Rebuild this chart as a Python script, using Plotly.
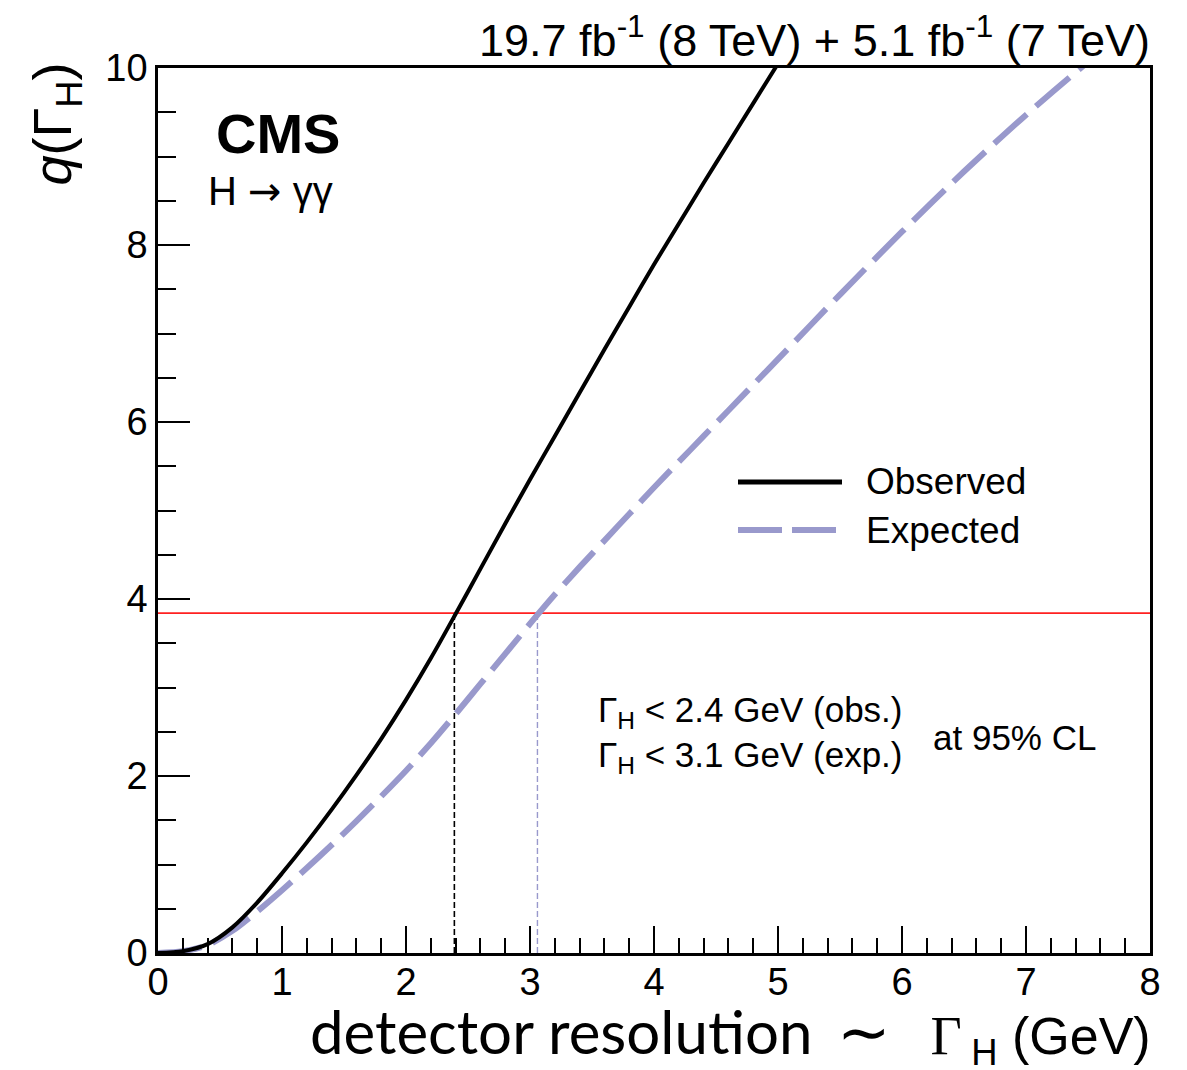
import plotly.graph_objects as go

# Profile-likelihood scan q(Gamma_H), H -> gamma gamma
gamma_obs = [0.0, 0.2, 0.4, 0.6, 0.8, 1.0, 1.2, 1.4, 1.6, 1.8, 2.0, 2.2, 2.4,
             2.6, 2.8, 3.0, 3.2, 3.4, 3.6, 3.8, 4.0, 4.2, 4.4, 4.6, 4.8, 5.0]
q_obs = [0.00, 0.02, 0.10, 0.29, 0.57, 0.90, 1.25, 1.62, 2.01, 2.42, 2.86, 3.33, 3.83,
         4.34, 4.85, 5.35, 5.84, 6.33, 6.82, 7.30, 7.78, 8.24, 8.70, 9.15, 9.60, 10.05]

gamma_exp = [0.0, 0.2, 0.4, 0.6, 0.8, 1.0, 1.2, 1.4, 1.6, 1.8, 2.0, 2.2, 2.4, 2.6,
             2.8, 3.0, 3.2, 3.4, 3.6, 3.8, 4.0, 4.2, 4.4, 4.6, 4.8, 5.0, 5.5, 6.0,
             6.5, 7.0, 7.5, 7.6]
q_exp = [0.00, 0.02, 0.09, 0.25, 0.47, 0.71, 0.96, 1.22, 1.49, 1.77, 2.06, 2.37, 2.70, 3.04,
         3.38, 3.72, 4.05, 4.36, 4.66, 4.96, 5.26, 5.55, 5.84, 6.13, 6.42, 6.71, 7.44, 8.15,
         8.83, 9.47, 10.07, 10.19]

q_threshold = 3.84      # 95% CL for one parameter
limit_obs = 2.39        # GeV
limit_exp = 3.06        # GeV

x_ticks = [0, 1, 2, 3, 4, 5, 6, 7, 8]
y_ticks = [0, 2, 4, 6, 8, 10]

PURPLE = "#9999cc"
FONT = "Liberation Sans, Arial, Helvetica, sans-serif"

W, H = 1187, 1070
L, R, T, B = 158, 1150, 68, 953   # plot frame in pixels


def px(xp, yp):
    """Pixel position -> paper coordinates."""
    return (xp - L) / (R - L), (B - yp) / (B - T)


fig = go.Figure()

fig.add_trace(go.Scatter(
    x=gamma_exp, y=q_exp, mode="lines", name="Expected",
    line=dict(color=PURPLE, width=6, dash="44px,12px", shape="spline", smoothing=0.8),
    showlegend=False, hoverinfo="skip"))
fig.add_trace(go.Scatter(
    x=gamma_obs, y=q_obs, mode="lines", name="Observed",
    line=dict(color="black", width=4, shape="spline", smoothing=0.8),
    showlegend=False, hoverinfo="skip"))

# 95% CL threshold and the resulting limits
fig.add_shape(type="line", xref="x domain", yref="y", x0=0, x1=1,
              y0=q_threshold, y1=q_threshold, layer="below",
              line=dict(color="#ff2020", width=1.6))
fig.add_shape(type="line", xref="x", yref="y", x0=limit_obs, x1=limit_obs,
              y0=0, y1=q_threshold, layer="below",
              line=dict(color="black", width=1.6, dash="6px,3px"))
fig.add_shape(type="line", xref="x", yref="y", x0=limit_exp, x1=limit_exp,
              y0=0, y1=q_threshold, layer="below",
              line=dict(color=PURPLE, width=1.4, dash="6px,3px"))

annotations = []


def text(xp, yp, s, size, anchor="left", yanchor="middle", **kw):
    xx, yy = px(xp, yp)
    annotations.append(dict(
        x=xx, y=yy, xref="paper", yref="paper", text=s, showarrow=False,
        xanchor=anchor, yanchor=yanchor,
        font=dict(family=kw.pop("family", FONT), size=size, color="black"), **kw))


# legend, drawn by hand
for (y_leg, dash, col, wid, label) in [(482, "solid", "black", 5, "Observed"),
                                       (530, "44px,10px", PURPLE, 6, "Expected")]:
    x0, yy = px(738, y_leg)
    x1, _ = px(842, y_leg)
    fig.add_shape(type="line", xref="paper", yref="paper", x0=x0, x1=x1, y0=yy, y1=yy,
                  line=dict(color=col, width=wid, dash=dash))
    text(864, y_leg, label, 37)

text(214, 133, "<b>CMS</b>", 56)
text(206, 191, 'H <span style="font-family:DejaVu Sans">→</span> γγ', 40)
text(1152, 37, "19.7 fb<sup>-1</sup> (8 TeV) + 5.1 fb<sup>-1</sup> (7 TeV)", 45, anchor="right")
text(596, 712, f"Γ<sub>H</sub> &lt; {limit_obs:.1f} GeV (obs.)", 35)
text(596, 757, f"Γ<sub>H</sub> &lt; {limit_exp:.1f} GeV (exp.)", 35)
text(931, 737, "at 95% CL", 35)

# axis titles
text(55, 61, "<i>q</i>(Γ<sub>H</sub>)", 54, anchor="center", yanchor="top", textangle=-90)
text(1153, 1034,
     '<span style="font-family:Lato;font-size:60px">detector resolution</span>'
     '<span style="font-size:44px">\u00a0\u00a0</span>'
     '<span style="font-family:DejaVu Sans;font-size:64px">∼</span>'
     '<span style="font-size:48px">\u00a0\u00a0\u00a0</span>'
     '<span style="font-family:Liberation Serif;font-size:54px">Γ</span>'
     '<span style="font-size:34px">\u00a0</span>'
     '<sub>H</sub>\u00a0(GeV)',
     52, anchor="right")

axis_common = dict(
    showline=True, linecolor="black", linewidth=2.5, mirror=True,
    ticks="inside", tickcolor="black", tickwidth=2,
    showgrid=False, zeroline=False,
    tickfont=dict(family=FONT, size=38, color="black"),
)

fig.update_layout(
    width=W, height=H,
    margin=dict(l=L, r=W - R, t=T, b=H - B, pad=0),
    paper_bgcolor="white", plot_bgcolor="white",
    showlegend=False,
    annotations=annotations,
    xaxis=dict(range=[0, 8], tickvals=x_ticks, ticklen=27,
               minor=dict(ticks="inside", dtick=0.2, tick0=0, ticklen=15,
                          tickwidth=2, tickcolor="black"),
               ticklabelstandoff=-6, **axis_common),
    yaxis=dict(range=[0, 10], tickvals=y_ticks, ticklen=32,
               minor=dict(ticks="inside", dtick=0.5, tick0=0, ticklen=18,
                          tickwidth=2, tickcolor="black"),
               ticklabelstandoff=0, **axis_common),
)

fig.write_html("out.html")
